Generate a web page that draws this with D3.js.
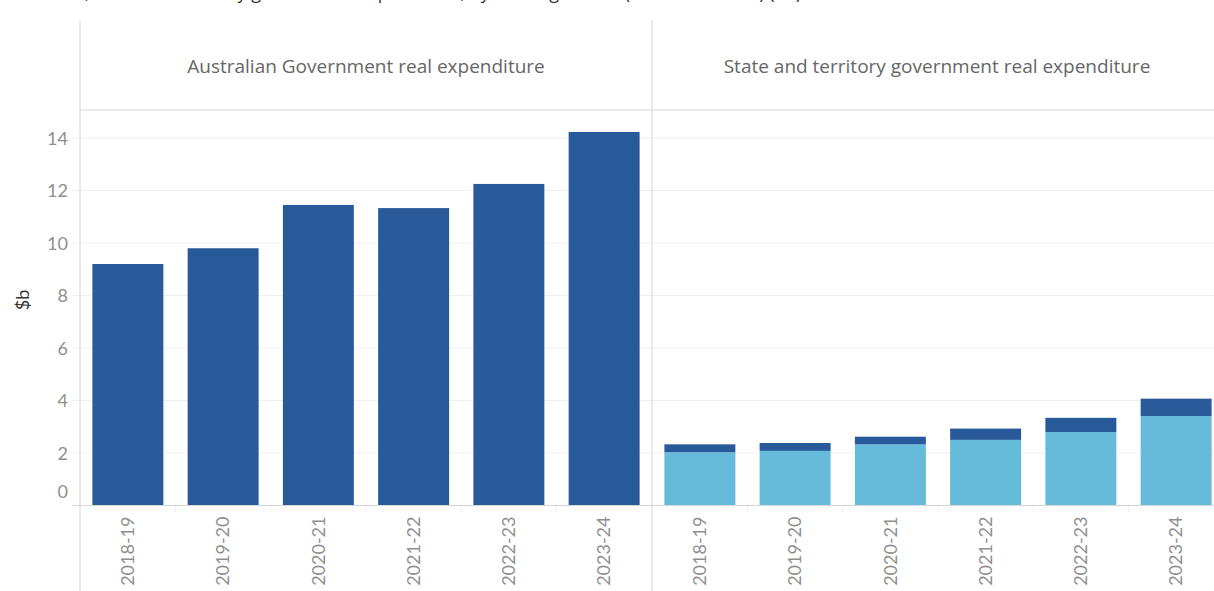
<!DOCTYPE html>
<html>
<head>
<meta charset="utf-8">
<script src="https://cdn.jsdelivr.net/npm/d3@7"></script>
<style>
  body { margin: 0; background: #fff; }
  svg { display: block; font-family: Lato, 'Open Sans', sans-serif; }
</style>
</head>
<body>
<svg id="chart"></svg>
<script>
const years = ['2018-19', '2019-20', '2020-21', '2021-22', '2022-23', '2023-24'];
const panels = ['Australian Government real expenditure', 'State and territory government real expenditure'];
// left panel, Australian Government ($b)
const ausGovt = [9.2, 9.8, 11.45, 11.33, 12.25, 14.23];
// right panel, stacked: state own-source (bottom) and Australian Government contribution (top)
const stateOwn = [2.03, 2.08, 2.33, 2.5, 2.8, 3.41];
const stateFromAus = [0.3, 0.3, 0.29, 0.43, 0.54, 0.66];
const yTicks = [0, 2, 4, 6, 8, 10, 12, 14];
const title = 'Australian, state and territory government expenditure, by funding source (2023-24 dollars) ($b)';

const W = 1214, H = 591;
const left = 80, panelW = 572, headerTop = 20, plotTop = 110, plotBottom = 505.5;
const darkBlue = '#285a99', lightBlue = '#66bbdb';

const svg = d3.select('#chart').attr('width', W).attr('height', H);

// title, mostly above the frame
svg.append('text')
  .attr('x', 0).attr('y', -1)
  .attr('font-size', 18).attr('fill', '#333').attr('font-family', 'Open Sans, sans-serif')
  .text(title);

const y = d3.scaleLinear().domain([0, (plotBottom - plotTop) / 26.25]).range([plotBottom, plotTop]);

// gridlines across both panels
svg.append('g')
  .selectAll('line')
  .data(yTicks.filter(d => d > 0))
  .join('line')
  .attr('x1', left - 8).attr('x2', W)
  .attr('y1', d => y(d)).attr('y2', d => y(d))
  .attr('stroke', '#efefef');

// y axis labels
const yAxis = svg.append('g')
  .attr('transform', `translate(${left},0)`)
  .call(d3.axisLeft(y).tickValues(yTicks).tickSize(0).tickPadding(12));
yAxis.select('.domain').remove();
yAxis.selectAll('text')
  .attr('font-size', 18).attr('fill', '#8f8f8f').attr('font-family', 'Lato, sans-serif')
  .attr('dy', d => d === 0 ? '-0.45em' : '0.35em');

svg.append('text')
  .attr('transform', 'translate(29,300) rotate(-90)')
  .attr('text-anchor', 'middle')
  .attr('font-size', 18).attr('fill', '#333')
  .text('$b');

panels.forEach((name, p) => {
  const x0 = left + p * panelW;
  const x = d3.scaleBand().domain(years).range([x0, x0 + panelW]).paddingInner(0.255).paddingOuter(0.13);

  // header
  svg.append('text')
    .attr('x', x0 + panelW / 2 - (p === 1 ? 1 : 0)).attr('y', 73)
    .attr('text-anchor', 'middle')
    .attr('font-size', 19).attr('fill', '#666').attr('font-family', 'Open Sans, sans-serif')
    .text(name);

  const g = svg.append('g');
  if (p === 0) {
    g.selectAll('rect')
      .data(ausGovt)
      .join('rect')
      .attr('x', (d, i) => x(years[i]))
      .attr('width', x.bandwidth())
      .attr('y', d => y(d))
      .attr('height', d => y(0) - y(d))
      .attr('fill', darkBlue);
  } else {
    const rows = years.map((yr, i) => ({ year: yr, own: stateOwn[i], aus: stateFromAus[i] }));
    const stack = d3.stack().keys(['own', 'aus'])(rows);
    g.selectAll('g')
      .data(stack)
      .join('g')
      .attr('fill', (d, i) => i === 0 ? lightBlue : darkBlue)
      .selectAll('rect')
      .data(d => d)
      .join('rect')
      .attr('x', d => x(d.data.year))
      .attr('width', x.bandwidth())
      .attr('y', d => y(d[1]))
      .attr('height', d => y(d[0]) - y(d[1]));
  }

  // x axis
  const xAxis = svg.append('g')
    .attr('transform', `translate(0,${plotBottom})`)
    .call(d3.axisBottom(x).tickSize(0).tickPadding(10));
  xAxis.select('.domain').remove();
  xAxis.selectAll('text')
    .attr('font-size', 18).attr('fill', '#8f8f8f').attr('font-family', 'Lato, sans-serif')
    .attr('transform', 'rotate(-90)')
    .attr('text-anchor', 'end')
    .attr('x', -11).attr('y', 0).attr('dy', '0.35em');

  // faint tick marks between bands
  svg.append('g')
    .selectAll('line')
    .data(years.slice(1))
    .join('line')
    .attr('x1', d => x(d) - x.step() * x.paddingInner() / 2)
    .attr('x2', d => x(d) - x.step() * x.paddingInner() / 2)
    .attr('y1', plotBottom).attr('y2', plotBottom + 7)
    .attr('stroke', '#f0f0f0');
});

// frame lines
svg.append('line')
  .attr('x1', left).attr('x2', W).attr('y1', plotTop).attr('y2', plotTop)
  .attr('stroke', '#d6d6d6');
svg.append('line')
  .attr('x1', left - 8).attr('x2', W).attr('y1', plotBottom).attr('y2', plotBottom)
  .attr('stroke', '#d6d6d6');
[left, left + panelW].forEach(xv => {
  svg.append('line')
    .attr('x1', xv).attr('x2', xv).attr('y1', headerTop).attr('y2', H)
    .attr('stroke', '#d6d6d6');
});
</script>
</body>
</html>
